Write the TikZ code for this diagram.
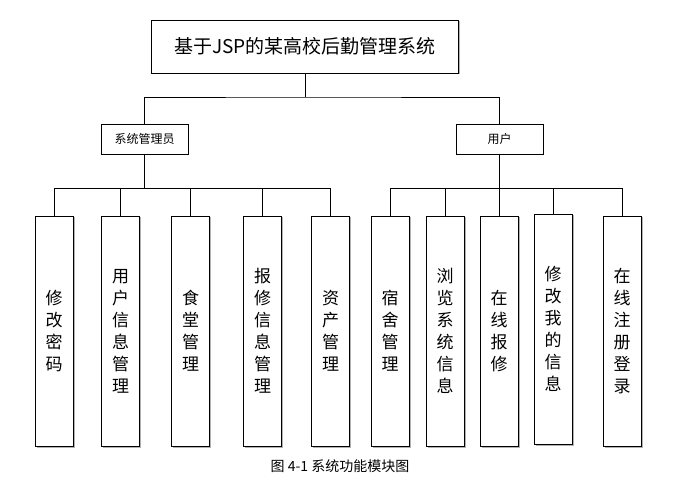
\documentclass[tikz,border=0pt]{standalone}
\usepackage{fontspec}
\newfontfamily\cjk{Noto Sans CJK SC}
\usetikzlibrary{shadows}
\tikzset{
  box/.style={draw,fill=white,inner sep=0pt,font=\cjk},
  leaf/.style={box,minimum width=38pt,minimum height=230pt,align=center,
    font=\cjk\fontsize{17pt}{22pt}\selectfont,
    drop shadow={shadow xshift=1.5pt,shadow yshift=-1.5pt,fill=black!60}},
  mid/.style={box,minimum width=87pt,minimum height=30pt,
    font=\cjk\fontsize{12pt}{14pt}\selectfont},
  wire/.style={line width=0.6pt}
}
\begin{document}
\begin{tikzpicture}[x=1pt,y=-1pt]
\useasboundingbox (0,0) rectangle (683,486);

\node (sys) at (305,46.5)[box,minimum width=307pt,minimum height=53pt,
  font=\cjk\fontsize{19pt}{22pt}\selectfont,
  drop shadow={shadow xshift=1.5pt,shadow yshift=-1.5pt,fill=black!60}] {基于JSP的某高校后勤管理系统};
\node (adm) at (144.5,139)[mid] {系统管理员};
\node (usr) at (499.5,139)[mid] {用户};

\node (a1) at (54,331)[leaf] {修\\改\\密\\码};
\node (a2) at (120.5,331)[leaf] {用\\户\\信\\息\\管\\理};
\node (a3) at (190.5,331)[leaf] {食\\堂\\管\\理};
\node (a4) at (262.5,331)[leaf] {报\\修\\信\\息\\管\\理};
\node (a5) at (330.5,331)[leaf] {资\\产\\管\\理};
\node (u1) at (390,331)[leaf] {宿\\舍\\管\\理};
\node (u2) at (445,331)[leaf] {浏\\览\\系\\统\\信\\息};
\node (u3) at (499,331)[leaf] {在\\线\\报\\修};
\node (u4) at (553,329)[leaf] {修\\改\\我\\的\\信\\息};
\node (u5) at (622,331)[leaf] {在\\线\\注\\册\\登\\录};

\coordinate (j0) at (305,97);
\coordinate (ja) at (144.5,188);
\coordinate (ju) at (499.5,188);

\draw[wire] (sys.south) -- (j0);
\draw[wire] (adm.north) |- (j0) -| (usr.north);
\draw[wire] (adm.south) -- (ja);
\draw[wire] (usr.south) -- (ju);
\foreach \n in {a1,a2,a3,a4,a5}
  \draw[wire] (ja) -| (\n.north);
\foreach \n in {u1,u2,u3,u4,u5}
  \draw[wire] (ju) -| (\n.north);

\node (cap) at (340,466)[font=\cjk\fontsize{14pt}{16pt}\selectfont] {图 4-1 系统功能模块图};
\end{tikzpicture}
\end{document}
